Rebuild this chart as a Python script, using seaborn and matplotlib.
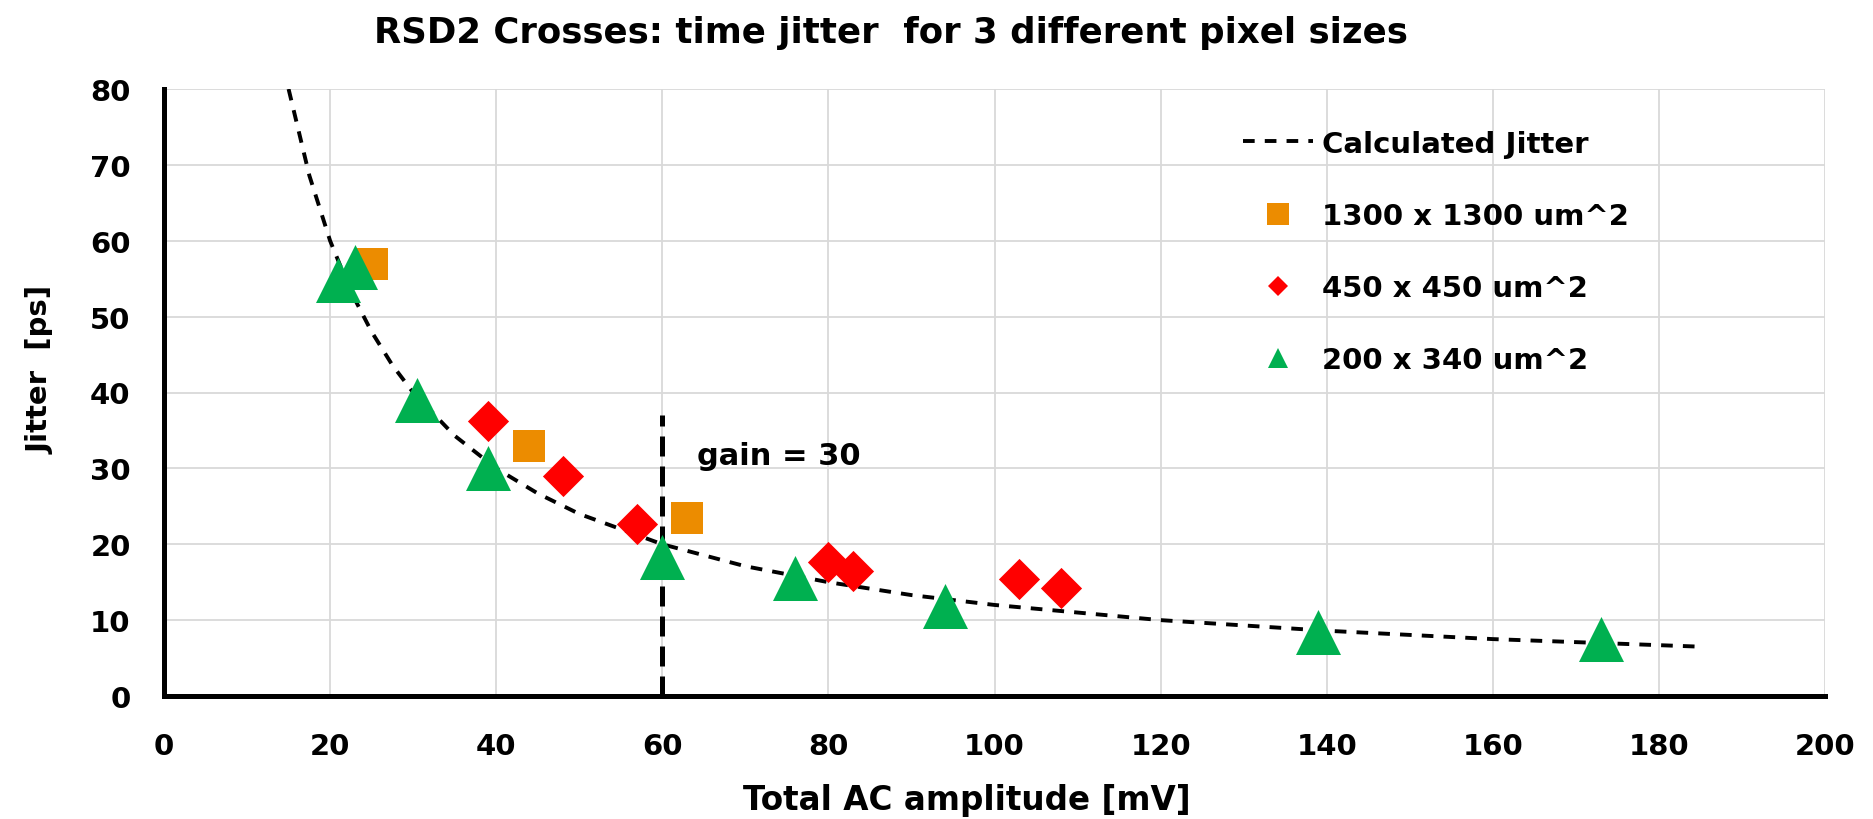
import numpy as np
import pandas as pd
import matplotlib
matplotlib.use("Agg")
import matplotlib.pyplot as plt
from matplotlib.lines import Line2D
import seaborn as sns

# ---- data ----
calc_x = [15, 17.5, 20, 22.5, 25, 27.5, 30, 35, 40, 45, 50, 60, 70, 80, 90, 100, 120, 140, 160, 185]
calc_y = [80, 68.6, 60, 53.3, 48, 43.6, 40, 34.3, 30, 26.7, 24, 20, 17.1, 15, 13.3, 12, 10, 8.6, 7.5, 6.5]

sq_x = [25, 44, 63]
sq_y = [57, 33, 23.5]

dia_x = [39, 48, 57, 80, 83, 103, 108]
dia_y = [36.3, 29, 22.7, 17.7, 16.5, 15.4, 14.2]

tri_x = [21, 23, 30.5, 39, 60, 76, 94, 139, 173]
tri_y = [54.8, 56.5, 39, 30, 18.3, 15.5, 11.8, 8.5, 7.5]

gain_x = [60, 60]
gain_y = [0, 37]

x_ticks = [0, 20, 40, 60, 80, 100, 120, 140, 160, 180, 200]
y_ticks = [0, 10, 20, 30, 40, 50, 60, 70, 80]

labels = ["Calculated Jitter", "1300 x 1300 um^2", "450 x 450 um^2", "200 x 340 um^2"]
c_orange = "#EC8C00"
c_red = "#FF0000"
c_green = "#00B050"

sns.set_style("whitegrid")
plt.rcParams['font.family'] = ['DejaVu Sans']
plt.rcParams['font.weight'] = 'bold'
plt.rcParams['text.color'] = 'black'
plt.rcParams['axes.labelcolor'] = 'black'
plt.rcParams['xtick.color'] = 'black'
plt.rcParams['ytick.color'] = 'black'

fig = plt.figure(figsize=(18.73, 8.2), dpi=100)
ax = fig.add_axes([164 / 1873, 1 - 697 / 820, 1661 / 1873, 607 / 820])

calc_df = pd.DataFrame({"x": calc_x, "y": calc_y})
sns.lineplot(data=calc_df, x="x", y="y", ax=ax, color="black", linewidth=2.8,
             estimator=None, sort=False, zorder=2)
ax.lines[-1].set_dashes((3, 2.6))

sns.lineplot(x=gain_x, y=gain_y, ax=ax, color="black", linewidth=3.6,
             estimator=None, sort=False, zorder=2)
ax.lines[-1].set_dashes((4, 2))

sns.scatterplot(x=sq_x, y=sq_y, ax=ax, marker="s", s=530, color=c_orange,
                linewidth=0, zorder=3)
sns.scatterplot(x=dia_x, y=dia_y, ax=ax, marker="D", s=440, color=c_red,
                linewidth=0, zorder=3)
sns.scatterplot(x=tri_x, y=tri_y, ax=ax, marker="^", s=1050, color=c_green,
                linewidth=0, zorder=3)

ax.text(64.2, 31.7, "gain = 30", fontsize=22, fontweight="bold", va="center", ha="left")

ax.set_xlim(0, 200)
ax.set_ylim(0, 80)
ax.set_xticks(x_ticks)
ax.set_yticks(y_ticks)
ax.grid(True, color="#d9d9d9", linewidth=1.3)
for s in ["top", "right"]:
    ax.spines[s].set_visible(False)
for s in ["left", "bottom"]:
    ax.spines[s].set_color("black")
    ax.spines[s].set_linewidth(3.6)
ax.tick_params(axis="both", direction="in", length=8, width=3, color="black",
               labelsize=21)
ax.tick_params(axis="y", pad=24)
ax.tick_params(axis="x", pad=26)
for lab in ax.get_xticklabels() + ax.get_yticklabels():
    lab.set_fontweight("bold")

ax.set_xlabel("Total AC amplitude [mV]", fontsize=23.5, fontweight="bold")
ax.set_ylabel("Jitter  [ps]", fontsize=21, fontweight="bold")
ax.xaxis.set_label_coords(0.4834, -0.143)
ax.yaxis.set_label_coords(-0.0656, 0.539)

fig.text(0.4757, 0.960, "RSD2 Crosses: time jitter  for 3 different pixel sizes",
         ha="center", va="center", fontsize=25.6, fontweight="bold")

handles = [
    Line2D([], [], color="black", linewidth=2.8, dashes=(3, 2.6)),
    Line2D([], [], linestyle="none", marker="s", markersize=16, color=c_orange, markeredgewidth=0),
    Line2D([], [], linestyle="none", marker="D", markersize=10.5, color=c_red, markeredgewidth=0),
    Line2D([], [], linestyle="none", marker="^", markersize=15, color=c_green, markeredgewidth=0),
]
leg = ax.legend(handles, labels, loc="upper left", bbox_to_anchor=(0.6496, 0.933),
                frameon=False, handlelength=2.4, handletextpad=0.3,
                labelspacing=1.51, borderpad=0, borderaxespad=0,
                prop={"weight": "bold", "size": 21})

fig.savefig("out.png", dpi=100, facecolor="white")
